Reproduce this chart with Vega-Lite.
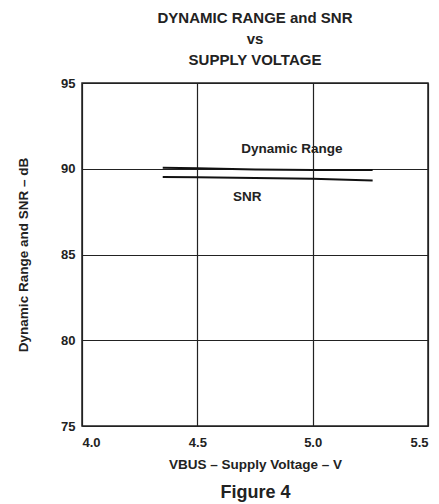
{
  "$schema": "https://vega.github.io/schema/vega-lite/v6.json",
  "width": 346,
  "height": 343,
  "autosize": {"type": "none"},
  "padding": {"left": 82, "top": 83, "right": 11, "bottom": 78},
  "background": "white",
  "config": {
    "font": "Liberation Sans",
    "view": {"stroke": "#222", "strokeWidth": 1.5},
    "axis": {
      "labelFont": "Liberation Sans",
      "titleFont": "Liberation Sans",
      "labelFontWeight": "bold",
      "titleFontWeight": "bold",
      "labelColor": "#222",
      "titleColor": "#222",
      "gridColor": "#222",
      "gridOpacity": 1,
      "gridWidth": 1.2,
      "ticks": false,
      "domain": false
    }
  },
  "title": {
    "text": ["DYNAMIC RANGE and SNR", "vs", "SUPPLY VOLTAGE"],
    "font": "Liberation Sans",
    "fontSize": 15,
    "fontWeight": "bold",
    "lineHeight": 21,
    "offset": 9,
    "anchor": "middle",
    "color": "#222"
  },
  "layer": [
    {
      "data": {
        "values": [
          {"series": "Dynamic Range", "v": 4.35, "db": 90.06},
          {"series": "Dynamic Range", "v": 4.5, "db": 90.03},
          {"series": "Dynamic Range", "v": 4.75, "db": 89.95},
          {"series": "Dynamic Range", "v": 5.0, "db": 89.93},
          {"series": "Dynamic Range", "v": 5.26, "db": 89.92},
          {"series": "SNR", "v": 4.35, "db": 89.52},
          {"series": "SNR", "v": 4.5, "db": 89.5},
          {"series": "SNR", "v": 5.0, "db": 89.42},
          {"series": "SNR", "v": 5.26, "db": 89.32}
        ]
      },
      "mark": {"type": "line", "color": "#111", "strokeWidth": 2},
      "encoding": {
        "x": {
          "field": "v", "type": "quantitative",
          "scale": {"domain": [4.0, 5.5], "nice": false, "zero": false},
          "axis": {
            "values": [4.0, 4.5, 5.0, 5.5],
            "format": ".1f",
            "labelFontSize": 13,
            "labelPadding": 10,
            "title": "VBUS – Supply Voltage – V",
            "titleFontSize": 13.5,
            "titlePadding": 8,
            "grid": true
          }
        },
        "y": {
          "field": "db", "type": "quantitative",
          "scale": {"domain": [75, 95], "nice": false, "zero": false},
          "axis": {
            "values": [75, 80, 85, 90, 95],
            "labelFontSize": 13,
            "labelPadding": 7,
            "title": "Dynamic Range and SNR – dB",
            "titleFontSize": 13.5,
            "titlePadding": 30,
            "grid": true
          }
        },
        "detail": {"field": "series"}
      }
    },
    {
      "data": {
        "values": [
          {"label": "Dynamic Range", "v": 4.91, "db": 91.18},
          {"label": "SNR", "v": 4.716, "db": 88.33}
        ]
      },
      "mark": {"type": "text", "font": "Liberation Sans", "fontSize": 13.5, "fontWeight": "bold", "color": "#222"},
      "encoding": {
        "x": {
          "field": "v", "type": "quantitative",
          "axis": {
            "orient": "bottom",
            "labels": false,
            "grid": false,
            "title": "Figure 4",
            "titleFontSize": 18,
            "titlePadding": 57
          }
        },
        "y": {"field": "db", "type": "quantitative"},
        "text": {"field": "label"}
      }
    }
  ],
  "resolve": {"axis": {"x": "independent"}}
}
